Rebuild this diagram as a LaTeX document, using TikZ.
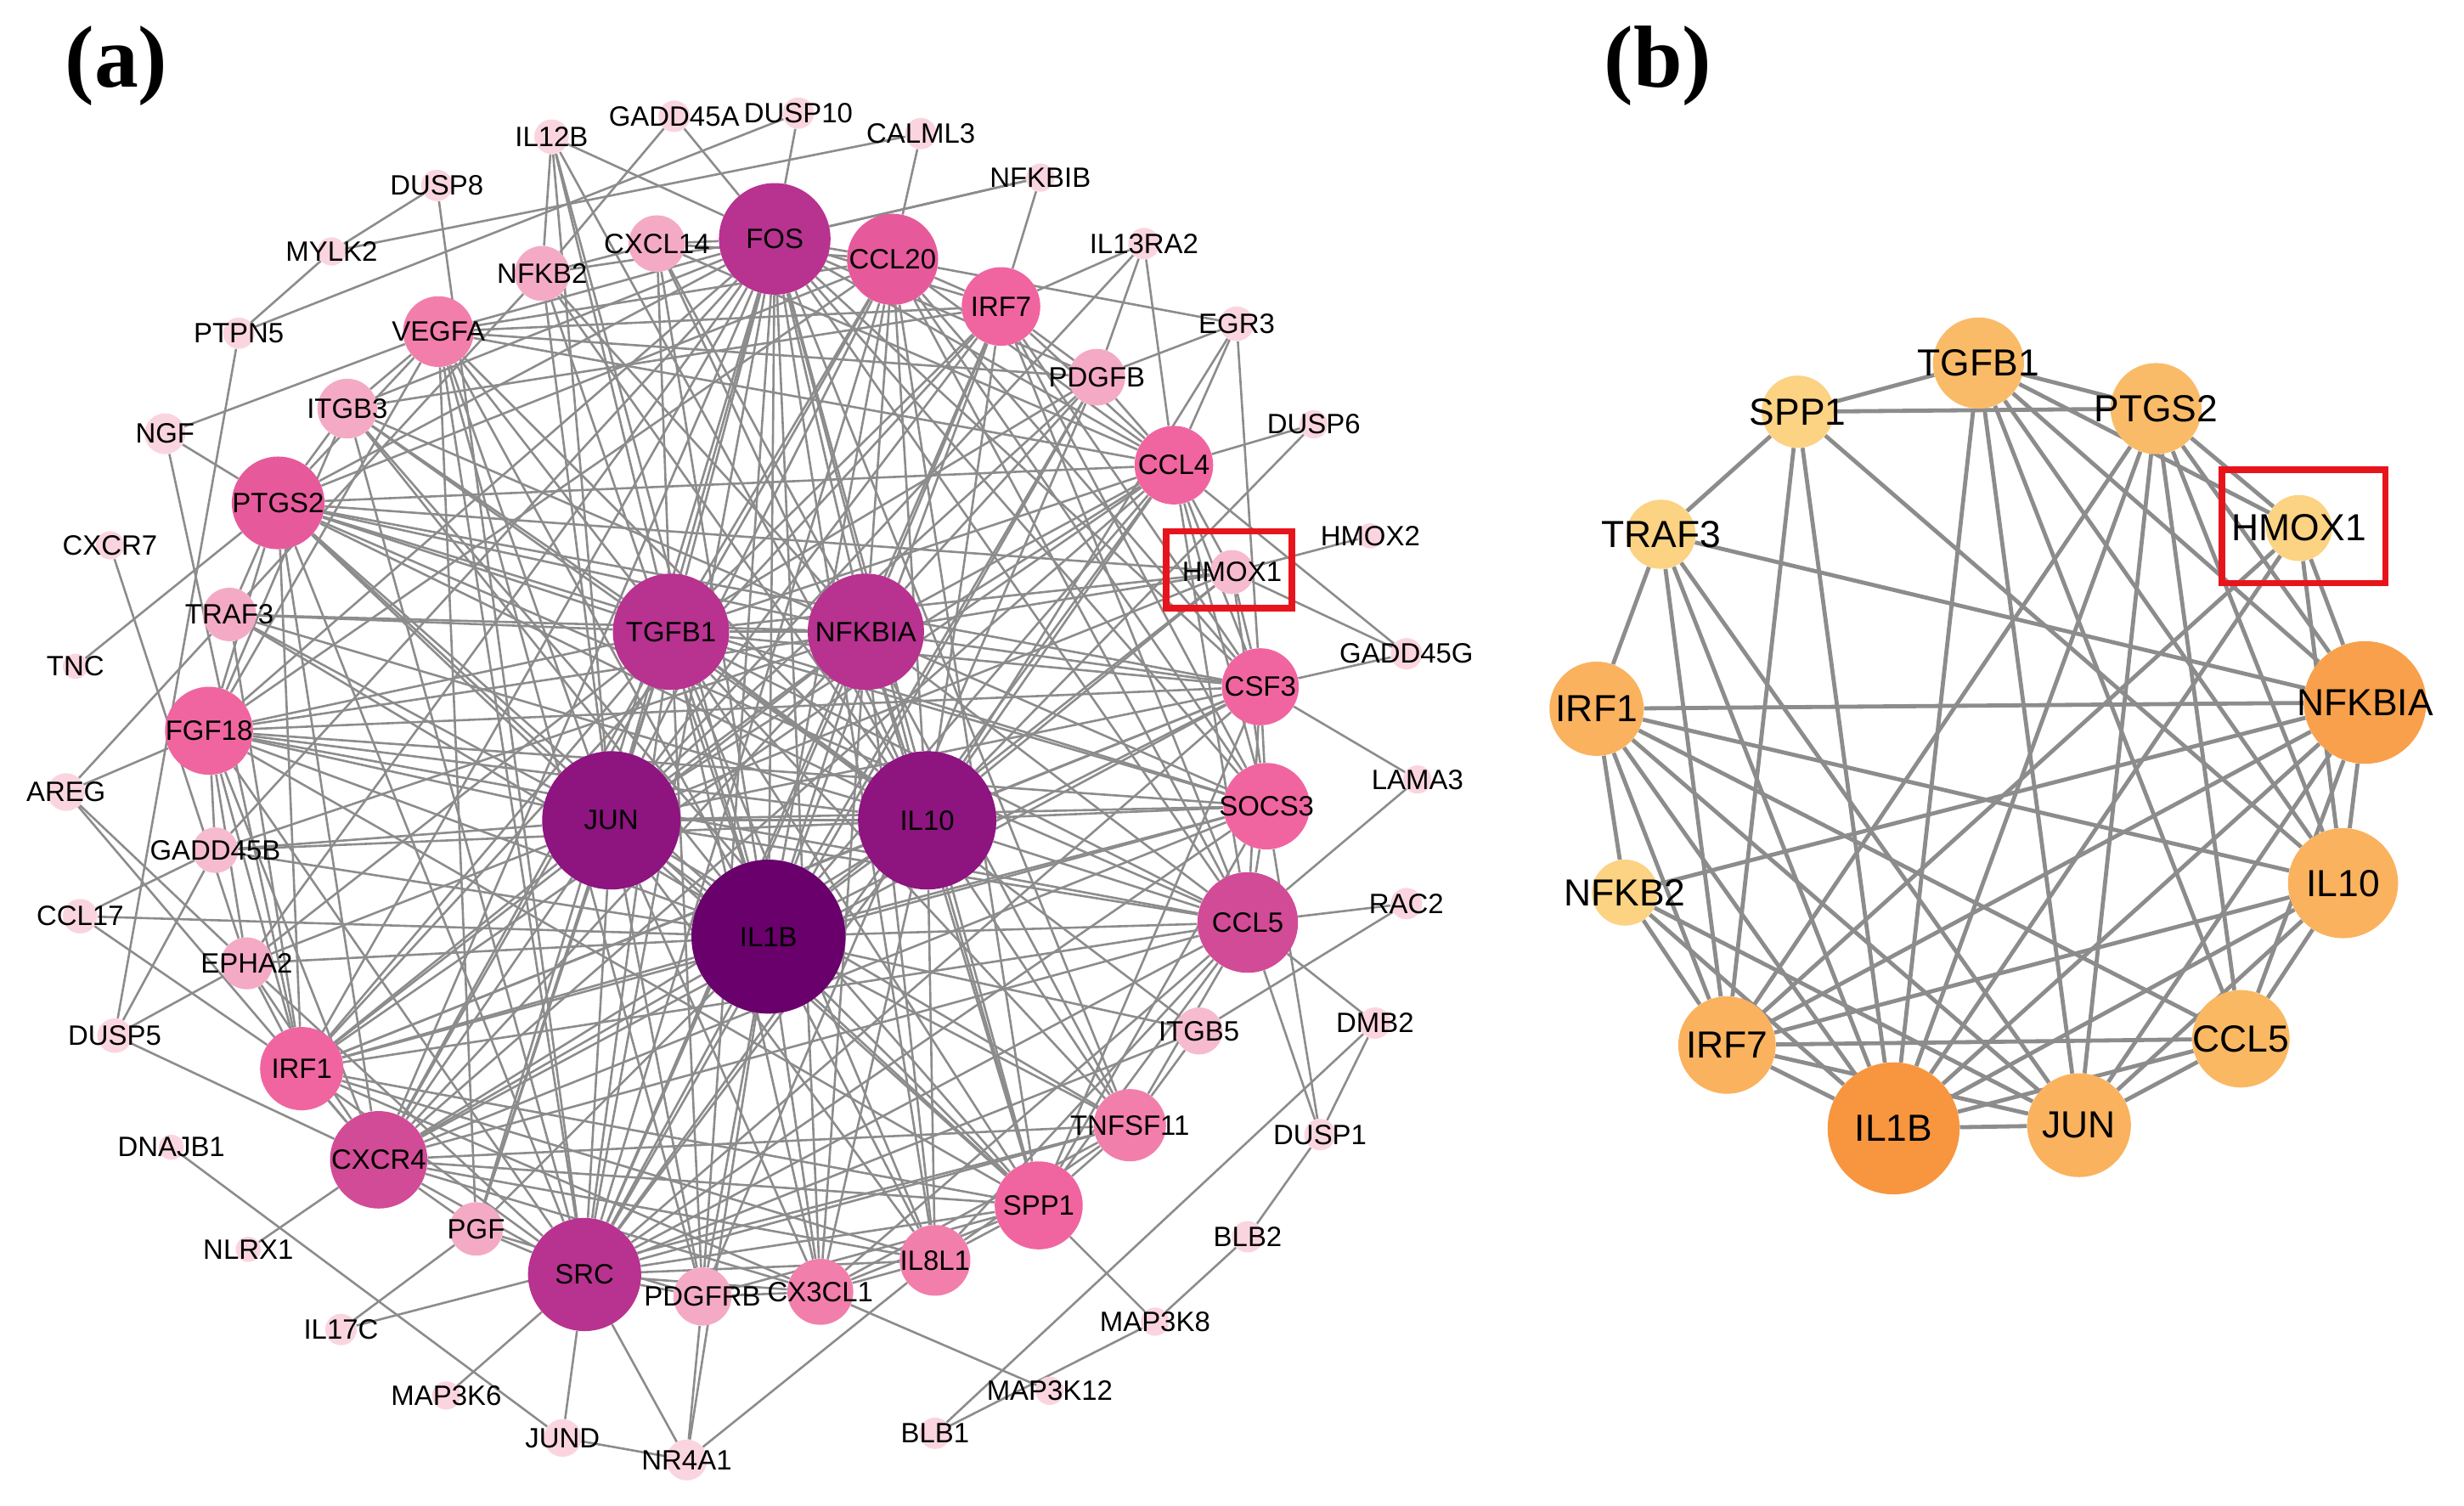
\documentclass[tikz,border=0pt]{standalone}
\usepackage{fontspec}
\setmainfont{Liberation Sans}
\newfontfamily\panelfont{Liberation Serif}
\usetikzlibrary{backgrounds}
\definecolor{cA}{HTML}{6A006C}
\definecolor{cB}{HTML}{8E1480}
\definecolor{cC}{HTML}{B83290}
\definecolor{cD}{HTML}{D24B96}
\definecolor{cE}{HTML}{E65A9B}
\definecolor{cF}{HTML}{F065A0}
\definecolor{cG}{HTML}{F27EAB}
\definecolor{cH}{HTML}{F4AAC4}
\definecolor{cI}{HTML}{F6BBCF}
\definecolor{cS}{HTML}{FAD5DF}
\definecolor{oA}{HTML}{F7963F}
\definecolor{oA2}{HTML}{F8A04B}
\definecolor{oB}{HTML}{FAB25E}
\definecolor{oB2}{HTML}{FAB862}
\definecolor{oC}{HTML}{FABB68}
\definecolor{oD}{HTML}{FCD283}
\definecolor{edgegray}{HTML}{8C8C8C}
\definecolor{boxred}{HTML}{E8141C}
\newcommand\mkg[7]{\node[nd,fill=#6,minimum size=#5pt,label={[#7]center:#2}] (#1) at (#3,#4) {};}
\tikzset{
  nd/.style={circle,inner sep=0pt,draw=none},
  laba/.style={font=\fontsize{17.8}{20}\selectfont,inner sep=0pt},
  labb/.style={font=\fontsize{24}{27}\selectfont,inner sep=0pt},
  ea/.style={draw=edgegray,line width=1.4pt},
  eb/.style={draw=edgegray,line width=2.6pt},
  redbox/.style={draw=boxred,line width=4pt},
  paneltag/.style={font=\fontsize{56}{60}\panelfont\bfseries,inner sep=0pt}
}
\begin{document}
\begin{tikzpicture}[x=1pt,y=-1pt]
\path[use as bounding box] (0,0) rectangle (1568,958);
\node[paneltag] (tagA) at (74,42) {(a)};
\node[paneltag] (tagB) at (1055,42) {(b)};
% ---------- panel (a) nodes ----------
\mkg{IL1B}{IL1B}{489}{596}{98}{cA}{laba}
\mkg{JUN}{JUN}{389}{522}{88}{cB}{laba}
\mkg{IL10}{IL10}{590}{522}{88}{cB}{laba}
\mkg{TGFB1}{TGFB1}{427}{402}{74}{cC}{laba}
\mkg{NFKBIA}{NFKBIA}{551}{402}{74}{cC}{laba}
\mkg{FOS}{FOS}{493}{152}{71}{cC}{laba}
\mkg{SRC}{SRC}{372}{811}{72}{cC}{laba}
\mkg{CCL5}{CCL5}{794}{587}{64}{cD}{laba}
\mkg{CXCR4}{CXCR4}{241}{738}{62}{cD}{laba}
\mkg{CCL20}{CCL20}{568}{165}{58}{cE}{laba}
\mkg{PTGS2}{PTGS2}{177}{320}{59}{cE}{laba}
\mkg{FGF18}{FGF18}{133}{465}{56}{cF}{laba}
\mkg{SPP1}{SPP1}{661}{767}{56}{cF}{laba}
\mkg{SOCS3}{SOCS3}{806}{513}{55}{cF}{laba}
\mkg{IRF1}{IRF1}{192}{680}{53}{cF}{laba}
\mkg{CSF3}{CSF3}{802}{437}{49}{cF}{laba}
\mkg{CCL4}{CCL4}{747}{296}{50}{cF}{laba}
\mkg{IRF7}{IRF7}{637}{195}{50}{cF}{laba}
\mkg{TNFSF11}{TNFSF11}{719}{716}{46}{cG}{laba}
\mkg{VEGFA}{VEGFA}{279}{211}{45}{cG}{laba}
\mkg{IL8L1}{IL8L1}{595}{802}{45}{cG}{laba}
\mkg{CX3CL1}{CX3CL1}{522}{822}{42}{cG}{laba}
\mkg{PDGFB}{PDGFB}{698}{240}{36}{cH}{laba}
\mkg{ITGB3}{ITGB3}{221}{260}{38}{cH}{laba}
\mkg{NFKB2}{NFKB2}{345}{174}{35}{cH}{laba}
\mkg{CXCL14}{CXCL14}{418}{155}{36}{cH}{laba}
\mkg{PDGFRB}{PDGFRB}{447}{825}{37}{cH}{laba}
\mkg{PGF}{PGF}{303}{782}{34}{cH}{laba}
\mkg{EPHA2}{EPHA2}{157}{613}{33}{cH}{laba}
\mkg{TRAF3}{TRAF3}{146}{391}{34}{cH}{laba}
\mkg{GADD45B}{GADD45B}{137}{541}{29}{cI}{laba}
\mkg{ITGB5}{ITGB5}{763}{656}{30}{cI}{laba}
\mkg{HMOX1}{HMOX1}{784}{364}{28}{cI}{laba}
\mkg{IL12B}{IL12B}{351}{87}{22}{cS}{laba}
\mkg{GADD45A}{GADD45A}{429}{74}{20}{cS}{laba}
\mkg{DUSP10}{DUSP10}{508}{72}{20}{cS}{laba}
\mkg{CALML3}{CALML3}{586}{85}{20}{cS}{laba}
\mkg{NFKBIB}{NFKBIB}{662}{113}{18}{cS}{laba}
\mkg{DUSP8}{DUSP8}{278}{118}{20}{cS}{laba}
\mkg{MYLK2}{MYLK2}{211}{160}{18}{cS}{laba}
\mkg{IL13RA2}{IL13RA2}{728}{155}{20}{cS}{laba}
\mkg{EGR3}{EGR3}{787}{206}{22}{cS}{laba}
\mkg{PTPN5}{PTPN5}{152}{212}{20}{cS}{laba}
\mkg{NGF}{NGF}{105}{276}{26}{cS}{laba}
\mkg{DUSP6}{DUSP6}{836}{270}{18}{cS}{laba}
\mkg{CXCR7}{CXCR7}{70}{347}{18}{cS}{laba}
\mkg{HMOX2}{HMOX2}{872}{341}{16}{cS}{laba}
\mkg{TNC}{TNC}{48}{424}{16}{cS}{laba}
\mkg{GADD45G}{GADD45G}{895}{416}{20}{cS}{laba}
\mkg{AREG}{AREG}{42}{504}{24}{cS}{laba}
\mkg{LAMA3}{LAMA3}{902}{496}{18}{cS}{laba}
\mkg{CCL17}{CCL17}{51}{583}{22}{cS}{laba}
\mkg{RAC2}{RAC2}{895}{575}{20}{cS}{laba}
\mkg{DUSP5}{DUSP5}{73}{659}{22}{cS}{laba}
\mkg{DMB2}{DMB2}{875}{651}{20}{cS}{laba}
\mkg{DNAJB1}{DNAJB1}{109}{730}{16}{cS}{laba}
\mkg{DUSP1}{DUSP1}{840}{722}{20}{cS}{laba}
\mkg{BLB2}{BLB2}{794}{787}{20}{cS}{laba}
\mkg{NLRX1}{NLRX1}{158}{795}{16}{cS}{laba}
\mkg{IL17C}{IL17C}{217}{846}{20}{cS}{laba}
\mkg{MAP3K6}{MAP3K6}{284}{888}{18}{cS}{laba}
\mkg{MAP3K12}{MAP3K12}{668}{885}{18}{cS}{laba}
\mkg{JUND}{JUND}{358}{915}{24}{cS}{laba}
\mkg{BLB1}{BLB1}{595}{912}{20}{cS}{laba}
\mkg{NR4A1}{NR4A1}{437}{929}{26}{cS}{laba}
\mkg{MAP3K8}{MAP3K8}{735}{841}{18}{cS}{laba}
\draw[redbox] (742,338) rectangle (822,387);
% ---------- panel (b) nodes ----------
\mkg{TGFB1b}{TGFB1}{1259}{231}{58}{oC}{labb}
\mkg{SPP1b}{SPP1}{1144}{262}{46}{oD}{labb}
\mkg{PTGS2b}{PTGS2}{1372}{260}{58}{oC}{labb}
\mkg{HMOX1b}{HMOX1}{1463}{336}{42}{oD}{labb}
\mkg{TRAF3b}{TRAF3}{1057}{340}{44}{oD}{labb}
\mkg{NFKBIAb}{NFKBIA}{1505}{447}{78}{oA2}{labb}
\mkg{IRF1b}{IRF1}{1016}{451}{60}{oB}{labb}
\mkg{IL10b}{IL10}{1491}{562}{70}{oB}{labb}
\mkg{NFKB2b}{NFKB2}{1034}{568}{42}{oD}{labb}
\mkg{CCL5b}{CCL5}{1426}{661}{62}{oB2}{labb}
\mkg{IRF7b}{IRF7}{1099}{665}{62}{oB}{labb}
\mkg{IL1Bb}{IL1B}{1205}{718}{84}{oA}{labb}
\mkg{JUNb}{JUN}{1323}{716}{66}{oB}{labb}
\draw[redbox] (1414,299) rectangle (1518,371);
% ---------- edges ----------
\begin{pgfonlayer}{background}
\foreach \n in {JUN,IL10,TGFB1,NFKBIA,FOS,SRC,CCL20,CCL5,CXCR4,PTGS2,FGF18,SPP1,SOCS3,IRF1,CSF3,CCL4,IRF7,TNFSF11,VEGFA,IL8L1,CX3CL1,PDGFB,ITGB3,NFKB2,CXCL14,PDGFRB,PGF,EPHA2,TRAF3,GADD45B,ITGB5,HMOX1,CCL17,NR4A1,IL12B}
  \draw[ea] (IL1B) -- (\n);
\foreach \n in {IL10,TGFB1,NFKBIA,FOS,SRC,CCL20,CCL5,CXCR4,PTGS2,FGF18,SPP1,SOCS3,IRF1,CSF3,CCL4,IRF7,TNFSF11,VEGFA,IL8L1,CX3CL1,PDGFB,NFKB2,PDGFRB,PGF,EPHA2,TRAF3,GADD45B,HMOX1,IL12B,IL13RA2}
  \draw[ea] (JUN) -- (\n);
\foreach \n in {TGFB1,NFKBIA,FOS,SRC,CCL20,CCL5,CXCR4,PTGS2,FGF18,SPP1,SOCS3,IRF1,CSF3,CCL4,IRF7,TNFSF11,VEGFA,IL8L1,CX3CL1,ITGB3,NFKB2,CXCL14,TRAF3,GADD45B,HMOX1,IL12B,DUSP6}
  \draw[ea] (IL10) -- (\n);
\foreach \n in {NFKBIA,FOS,SRC,CCL20,CCL5,CXCR4,PTGS2,FGF18,SPP1,SOCS3,IRF1,CSF3,CCL4,IRF7,TNFSF11,VEGFA,IL8L1,CX3CL1,PDGFB,ITGB3,CXCL14,PDGFRB,PGF,EPHA2,TRAF3,ITGB5,HMOX1,IL12B}
  \draw[ea] (TGFB1) -- (\n);
\foreach \n in {FOS,SRC,CCL20,CCL5,CXCR4,PTGS2,FGF18,SPP1,SOCS3,IRF1,CSF3,CCL4,IRF7,TNFSF11,IL8L1,CX3CL1,NFKB2,CXCL14,TRAF3,GADD45B,HMOX1,PDGFB,ITGB3}
  \draw[ea] (NFKBIA) -- (\n);
\foreach \n in {SRC,CCL20,CCL5,CXCR4,PTGS2,FGF18,SPP1,SOCS3,IRF1,CSF3,CCL4,IRF7,TNFSF11,VEGFA,IL8L1,CX3CL1,PDGFB,ITGB3,NFKB2,CXCL14,PDGFRB,PGF,EPHA2,GADD45B,IL12B,GADD45A,DUSP10,NFKBIB}
  \draw[ea] (FOS) -- (\n);
\foreach \n in {CCL20,CCL5,CXCR4,PTGS2,FGF18,SPP1,SOCS3,IRF1,CSF3,CCL4,IRF7,TNFSF11,VEGFA,IL8L1,CX3CL1,PDGFB,ITGB3,PDGFRB,PGF,EPHA2,ITGB5,DUSP8,MAP3K6,JUND,NR4A1}
  \draw[ea] (SRC) -- (\n);
\foreach \a/\b in {CCL20/CCL5,CCL20/CXCR4,CCL20/PTGS2,CCL20/IRF7,CCL20/CCL4,CCL20/CSF3,CCL20/SOCS3,CCL20/FGF18,CCL20/EGR3,CCL20/CALML3,CCL20/VEGFA,CCL20/SPP1,
  CCL5/CXCR4,CCL5/CCL4,CCL5/IRF7,CCL5/IRF1,CCL5/SOCS3,CCL5/CSF3,CCL5/SPP1,CCL5/PTGS2,CCL5/FGF18,CCL5/RAC2,CCL5/LAMA3,CCL5/DUSP1,CCL5/IL8L1,CCL5/CX3CL1,CCL5/TNFSF11,CCL5/DMB2,
  CXCR4/PTGS2,CXCR4/FGF18,CXCR4/IRF1,CXCR4/CCL4,CXCR4/SPP1,CXCR4/CSF3,CXCR4/SOCS3,CXCR4/IL8L1,CXCR4/CX3CL1,CXCR4/PGF,CXCR4/EPHA2,CXCR4/TNFSF11,
  PTGS2/FGF18,PTGS2/SOCS3,PTGS2/CSF3,PTGS2/VEGFA,PTGS2/ITGB3,PTGS2/HMOX1,PTGS2/TRAF3,PTGS2/IRF1,PTGS2/NGF,PTGS2/CCL4,PTGS2/SPP1,
  FGF18/IRF1,FGF18/SOCS3,FGF18/CSF3,FGF18/GADD45B,FGF18/EPHA2,FGF18/ITGB3,FGF18/VEGFA,FGF18/SPP1,
  SPP1/SOCS3,SPP1/CSF3,SPP1/IL8L1,SPP1/CX3CL1,SPP1/TNFSF11,SPP1/IRF1,SPP1/PDGFRB,SPP1/MAP3K8,SPP1/ITGB3,
  SOCS3/CSF3,SOCS3/CCL4,SOCS3/IRF1,SOCS3/IRF7,SOCS3/HMOX1,
  CSF3/CCL4,CSF3/IRF7,CSF3/HMOX1,CSF3/IRF1,CSF3/GADD45G,CSF3/LAMA3,CSF3/EGR3,
  CCL4/IRF7,CCL4/PDGFB,CCL4/HMOX1,CCL4/DUSP6,CCL4/EGR3,CCL4/IL13RA2,CCL4/GADD45G,CCL4/VEGFA,CCL4/IRF1,
  IRF7/IRF1,IRF7/NFKBIB,IRF7/PDGFB,IRF7/VEGFA,IRF7/ITGB3,
  IRF1/TRAF3,IRF1/EPHA2,IRF1/CCL17,IRF1/NGF,IRF1/CX3CL1,IRF1/IL8L1,
  TNFSF11/ITGB5,TNFSF11/IL8L1,TNFSF11/CX3CL1,TNFSF11/IL17C,
  VEGFA/ITGB3,VEGFA/NGF,VEGFA/PDGFB,VEGFA/PGF,VEGFA/PDGFRB,
  IL8L1/CX3CL1,CX3CL1/MAP3K12,PDGFRB/PGF,PDGFRB/NR4A1,PDGFRB/CX3CL1,
  PDGFB/IL13RA2,PDGFB/EGR3,PDGFB/PDGFRB,
  NFKB2/CXCL14,NFKB2/GADD45A,NFKB2/IL12B,NFKB2/TRAF3,CXCL14/CCL20,CXCL14/CCL4,
  EPHA2/AREG,EPHA2/DUSP5,EPHA2/CXCR7,GADD45B/CCL17,GADD45B/DUSP5,
  HMOX1/HMOX2,HMOX1/GADD45G,ITGB5/RAC2,
  DUSP8/MYLK2,MYLK2/CALML3,MYLK2/PTPN5,PTPN5/DUSP10,PTPN5/DUSP5,
  TNC/PTGS2,AREG/FGF18,AREG/TRAF3,AREG/CXCR4,DUSP5/CXCR4,
  DNAJB1/JUND,NLRX1/CXCR4,IL17C/PGF,JUND/NR4A1,NR4A1/IL8L1,
  BLB1/DMB2,BLB1/MAP3K8,MAP3K8/BLB2,BLB2/DUSP1,DUSP1/DMB2,DUSP1/SOCS3,
  NFKBIB/FOS,IL13RA2/IRF7,EGR3/IL10}
  \draw[ea] (\a) -- (\b);
% panel (b) edges
\foreach \a/\b in {SPP1b/TGFB1b,SPP1b/PTGS2b,TGFB1b/PTGS2b,SPP1b/TRAF3b,SPP1b/IRF7b,SPP1b/IL1Bb,SPP1b/IL10b,
  TGFB1b/IL1Bb,TGFB1b/JUNb,TGFB1b/CCL5b,TGFB1b/IL10b,TGFB1b/NFKBIAb,TGFB1b/HMOX1b,
  PTGS2b/HMOX1b,PTGS2b/NFKBIAb,PTGS2b/IL10b,PTGS2b/CCL5b,PTGS2b/JUNb,PTGS2b/IL1Bb,PTGS2b/IRF7b,
  TRAF3b/NFKBIAb,TRAF3b/IRF1b,TRAF3b/IRF7b,TRAF3b/IL1Bb,TRAF3b/JUNb,
  IRF1b/NFKBIAb,IRF1b/IL10b,IRF1b/CCL5b,IRF1b/JUNb,IRF1b/IL1Bb,IRF1b/IRF7b,IRF1b/NFKB2b,
  NFKB2b/NFKBIAb,NFKB2b/IL1Bb,NFKB2b/JUNb,NFKB2b/IRF7b,
  IRF7b/CCL5b,IRF7b/IL10b,IRF7b/NFKBIAb,IRF7b/IL1Bb,IRF7b/JUNb,IRF7b/HMOX1b,
  IL1Bb/JUNb,IL1Bb/CCL5b,IL1Bb/IL10b,IL1Bb/NFKBIAb,IL1Bb/HMOX1b,
  JUNb/CCL5b,JUNb/IL10b,JUNb/NFKBIAb,
  CCL5b/IL10b,CCL5b/NFKBIAb,IL10b/NFKBIAb,IL10b/HMOX1b,NFKBIAb/HMOX1b}
  \draw[eb] (\a) -- (\b);
\end{pgfonlayer}
\end{tikzpicture}
\end{document}
